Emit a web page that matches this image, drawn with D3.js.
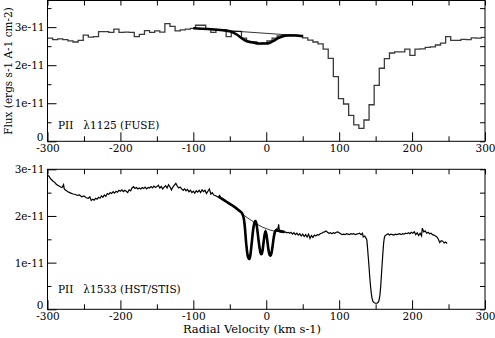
<!DOCTYPE html>
<html>
<head>
<meta charset="utf-8">
<script src="https://cdn.jsdelivr.net/npm/d3@7"></script>
<style>
body { margin: 0; background: #fff; }
svg text { font-family: "DejaVu Serif", serif; fill: #000; }
</style>
</head>
<body>
<div id="chart"></div>
<script>
// flux values are in units of 1e-11 ergs s-1 A-1 cm-2, velocities in km/s

// FUSE P II 1125: binned spectrum, [bin start velocity, flux]
const fuseSpectrum = [
  [-300, 2.71], [-293, 2.67], [-286, 2.69], [-279, 2.67], [-272, 2.64], [-265, 2.61],
  [-258, 2.65], [-251, 2.79], [-244, 2.74], [-237, 2.75], [-230, 2.88], [-223, 2.88],
  [-216, 2.86], [-209, 2.95], [-202, 2.86], [-195, 2.87], [-188, 2.86], [-181, 2.75],
  [-174, 2.81], [-167, 2.91], [-160, 2.86], [-153, 2.90], [-146, 2.87], [-139, 3.09],
  [-132, 3.02], [-125, 2.90], [-118, 2.93], [-111, 2.95], [-104, 2.97], [-97, 3.05],
  [-90, 3.05], [-83, 2.96], [-76, 2.86], [-69, 2.93], [-62, 2.93], [-55, 2.75],
  [-48, 2.89], [-41, 2.89], [-34, 2.71], [-27, 2.62], [-20, 2.61], [-13, 2.56],
  [-6, 2.58], [1, 2.64], [8, 2.71], [15, 2.77], [22, 2.79], [29, 2.79],
  [36, 2.79], [43, 2.78], [50, 2.72], [57, 2.66], [64, 2.61], [71, 2.56],
  [78, 2.42], [85, 2.18], [92, 1.70], [99, 1.12], [106, 0.98], [113, 0.68],
  [120, 0.43], [127, 0.34], [134, 0.56], [141, 0.96], [148, 1.47], [155, 1.92],
  [162, 2.17], [169, 2.32], [176, 2.35], [183, 2.35], [190, 2.42], [197, 2.26],
  [204, 2.42], [211, 2.43], [218, 2.47], [225, 2.48], [232, 2.53], [239, 2.58],
  [246, 2.75], [253, 2.65], [260, 2.65], [267, 2.68], [274, 2.67], [281, 2.72],
  [288, 2.71], [295, 2.73]
];
const fuseContinuum = [[-100, 2.97], [50, 2.77]];
const fuseModel = [
  [-100, 2.97], [-80, 2.95], [-60, 2.92], [-50, 2.89], [-40, 2.80], [-30, 2.66],
  [-20, 2.60], [-10, 2.57], [0, 2.57], [5, 2.59], [10, 2.64], [15, 2.70],
  [20, 2.74], [30, 2.78], [40, 2.78], [50, 2.76]
];

// HST/STIS P II 1533
const stisSpectrum = [
  [-300, 2.87], [-298, 2.85], [-296, 2.80], [-294, 2.77], [-292, 2.74], [-290, 2.72],
  [-288, 2.68], [-286, 2.66], [-284, 2.64], [-282, 2.62], [-280, 2.61], [-278, 2.67],
  [-277, 2.58], [-275, 2.55], [-273, 2.53], [-271, 2.51], [-268, 2.49], [-265, 2.47],
  [-262, 2.46], [-259, 2.44], [-256, 2.45], [-253, 2.41], [-250, 2.43], [-247, 2.39],
  [-244, 2.38], [-242, 2.41], [-240, 2.33], [-238, 2.36], [-236, 2.34], [-234, 2.38],
  [-232, 2.36], [-230, 2.40], [-228, 2.38], [-226, 2.43], [-224, 2.40], [-222, 2.45],
  [-220, 2.42], [-218, 2.48], [-216, 2.46], [-214, 2.50], [-212, 2.48], [-210, 2.52],
  [-208, 2.49], [-206, 2.53], [-204, 2.51], [-202, 2.55], [-200, 2.53], [-198, 2.56],
  [-196, 2.52], [-194, 2.55], [-192, 2.53], [-190, 2.50], [-188, 2.56], [-186, 2.54],
  [-184, 2.60], [-182, 2.63], [-180, 2.59], [-178, 2.61], [-176, 2.58], [-174, 2.60],
  [-172, 2.58], [-170, 2.61], [-168, 2.59], [-166, 2.62], [-164, 2.58], [-162, 2.61],
  [-160, 2.60], [-158, 2.63], [-156, 2.60], [-154, 2.64], [-152, 2.61], [-150, 2.63],
  [-148, 2.66], [-146, 2.60], [-144, 2.63], [-142, 2.58], [-140, 2.62], [-138, 2.65],
  [-136, 2.60], [-134, 2.67], [-132, 2.62], [-130, 2.56], [-128, 2.62], [-126, 2.66],
  [-124, 2.70], [-122, 2.64], [-120, 2.60], [-118, 2.62], [-116, 2.58], [-114, 2.55],
  [-112, 2.58], [-110, 2.54], [-108, 2.57], [-106, 2.52], [-104, 2.55], [-102, 2.50],
  [-100, 2.53], [-98, 2.49], [-96, 2.54], [-94, 2.51], [-92, 2.55], [-90, 2.50],
  [-88, 2.56], [-86, 2.52], [-84, 2.55], [-82, 2.48], [-80, 2.53], [-78, 2.58],
  [-76, 2.47], [-74, 2.50], [-72, 2.45], [-70, 2.44], [-68, 2.42], [-66, 2.40],
  [-64, 2.44], [-62, 2.37], [-60, 2.35], [-58, 2.33], [-56, 2.31], [-54, 2.30],
  [-52, 2.27], [-50, 2.26], [-48, 2.23], [-46, 2.22], [-44, 2.19], [-42, 2.18],
  [-40, 2.15], [-38, 2.13], [-36, 2.10], [-34, 2.07], [-32, 2.02], [-31, 1.95],
  [-30, 1.85], [-29, 1.70], [-28, 1.50], [-27, 1.35], [-26, 1.22], [-25, 1.13],
  [-24, 1.08], [-23, 1.07], [-22, 1.12], [-21, 1.25], [-20, 1.40], [-19, 1.55],
  [-18, 1.70], [-17, 1.80], [-16, 1.86], [-15, 1.90], [-14, 1.88], [-13, 1.80],
  [-12, 1.68], [-11, 1.55], [-10, 1.42], [-9, 1.30], [-8, 1.22], [-7, 1.18],
  [-6, 1.19], [-5, 1.26], [-4, 1.38], [-3, 1.52], [-2, 1.63], [-1, 1.68],
  [0, 1.62], [1, 1.52], [2, 1.40], [3, 1.28], [4, 1.20], [5, 1.16],
  [6, 1.15], [7, 1.19], [8, 1.27], [9, 1.38], [10, 1.50], [11, 1.60],
  [12, 1.67], [13, 1.70], [14, 1.72], [15, 1.70], [16, 1.73], [17, 1.82],
  [18, 1.68], [20, 1.66], [22, 1.67], [24, 1.65], [26, 1.66], [28, 1.64],
  [30, 1.65], [32, 1.63], [34, 1.65], [36, 1.61], [38, 1.64], [40, 1.60],
  [42, 1.63], [44, 1.59], [46, 1.62], [48, 1.57], [50, 1.61], [52, 1.56],
  [54, 1.60], [56, 1.55], [58, 1.61], [60, 1.52], [62, 1.58], [64, 1.54],
  [66, 1.59], [68, 1.57], [70, 1.60], [72, 1.59], [74, 1.62], [76, 1.63],
  [78, 1.65], [80, 1.66], [82, 1.68], [84, 1.65], [86, 1.63], [88, 1.64],
  [90, 1.62], [92, 1.64], [94, 1.63], [96, 1.65], [98, 1.66], [100, 1.64],
  [102, 1.62], [104, 1.60], [106, 1.61], [108, 1.60], [110, 1.62], [112, 1.61],
  [114, 1.60], [116, 1.62], [118, 1.61], [120, 1.62], [122, 1.60], [124, 1.61],
  [126, 1.62], [128, 1.63], [130, 1.60], [132, 1.63], [133, 1.55], [135, 1.57],
  [137, 1.52], [138, 1.48], [139, 1.30], [140, 1.10], [141, 0.90], [142, 0.68],
  [143, 0.50], [144, 0.35], [145, 0.24], [146, 0.18], [148, 0.14], [150, 0.13],
  [152, 0.13], [154, 0.16], [155, 0.22], [156, 0.32], [157, 0.50], [158, 0.75],
  [159, 0.98], [160, 1.22], [161, 1.42], [162, 1.54], [163, 1.58], [165, 1.60],
  [167, 1.62], [169, 1.59], [171, 1.61], [173, 1.60], [175, 1.59], [177, 1.61],
  [179, 1.60], [181, 1.61], [183, 1.62], [185, 1.60], [187, 1.62], [189, 1.61],
  [191, 1.63], [193, 1.62], [195, 1.64], [197, 1.62], [199, 1.65], [201, 1.63],
  [203, 1.66], [205, 1.60], [207, 1.64], [209, 1.58], [211, 1.63], [213, 1.57],
  [214, 1.74], [216, 1.66], [218, 1.68], [220, 1.63], [222, 1.65], [224, 1.62],
  [226, 1.63], [228, 1.60], [230, 1.59], [232, 1.57], [234, 1.55], [236, 1.50],
  [238, 1.43], [240, 1.47], [242, 1.46], [244, 1.42], [246, 1.44], [248, 1.41]
];
const stisContinuum = [
  [-65, 2.41], [-55, 2.31], [-45, 2.21], [-36, 2.09], [-30, 2.01], [-25, 1.95],
  [-20, 1.90], [-15, 1.85], [-10, 1.80], [-5, 1.76], [0, 1.73], [5, 1.70],
  [10, 1.68], [15, 1.67], [20, 1.66], [25, 1.66]
];
const stisModel = [
  [-65, 2.41], [-60, 2.36], [-55, 2.31], [-50, 2.26], [-45, 2.21], [-40, 2.15],
  [-36, 2.10], [-33, 2.05], [-31, 1.96], [-30, 1.86], [-29, 1.70], [-28, 1.50],
  [-27, 1.33], [-26, 1.20], [-25, 1.12], [-24, 1.08], [-23, 1.08], [-22, 1.14],
  [-21, 1.26], [-20, 1.41], [-19, 1.56], [-18, 1.70], [-17, 1.80], [-16, 1.86],
  [-15, 1.89], [-14, 1.87], [-13, 1.79], [-12, 1.67], [-11, 1.54], [-10, 1.41],
  [-9, 1.30], [-8, 1.22], [-7, 1.18], [-6, 1.19], [-5, 1.27], [-4, 1.39],
  [-3, 1.52], [-2, 1.62], [-1, 1.67], [0, 1.62], [1, 1.52], [2, 1.40],
  [3, 1.28], [4, 1.20], [5, 1.16], [6, 1.15], [7, 1.19], [8, 1.28],
  [9, 1.39], [10, 1.51], [11, 1.60], [12, 1.66], [14, 1.70], [16, 1.69],
  [20, 1.67], [25, 1.66]
];

const xMajor = [-300, -200, -100, 0, 100, 200, 300];
const xMinor = [-250, -150, -50, 50, 150, 250];
const panelLabels = ["PII   \u03bb1125 (FUSE)", "PII   \u03bb1533 (HST/STIS)"];

const width = 495, height = 338;
const left = 47.5, right = 485;

const svg = d3.select("#chart").append("svg")
    .attr("width", width)
    .attr("height", height);

let x = d3.scaleLinear().domain([-300, 300]).range([left, right]);

let panels = [
    { top: 0.5, bottom: 141.3, max: 3.7, spectrum: fuseSpectrum, step: true,
      continuum: fuseContinuum, model: fuseModel, label: panelLabels[0], labelY: 129 },
    { top: 169.3, bottom: 309.3, max: 3, spectrum: stisSpectrum, step: false,
      continuum: stisContinuum, model: stisModel, label: panelLabels[1], labelY: 293 }
];

let fmt = d => d === 0 ? "0" : d + "e-11";

panels.forEach(function (p, i) {
    let y = d3.scaleLinear().domain([0, p.max]).range([p.bottom, p.top]);
    let g = svg.append("g");

    let yMajor = [0, 1, 2, 3];
    let yHalf = [0.5, 1.5, 2.5, 3.5].filter(v => v <= p.max);
    let yAll = [0, 0.5, 1, 1.5, 2, 2.5, 3, 3.5].filter(v => v <= p.max);

    let clipId = "clip" + i;
    g.append("clipPath").attr("id", clipId)
        .append("rect")
        .attr("x", left).attr("y", p.top)
        .attr("width", right - left).attr("height", p.bottom - p.top);

    // bottom axis, labelled
    g.append("g")
        .attr("transform", `translate(0,${p.bottom})`)
        .call(d3.axisBottom(x).tickValues(xMajor).tickSize(-9).tickSizeOuter(0).tickPadding(3)
            .tickFormat(d => String(d)));
    g.append("g")
        .attr("transform", `translate(0,${p.bottom})`)
        .call(d3.axisBottom(x).tickValues(xMinor).tickSize(-5).tickSizeOuter(0).tickFormat(""));
    // top axis
    g.append("g")
        .attr("transform", `translate(0,${p.top})`)
        .call(d3.axisTop(x).tickValues(xMajor.concat(xMinor)).tickSize(-5).tickSizeOuter(0).tickFormat(""));
    // left axis
    let yAxis = g.append("g")
        .attr("transform", `translate(${left},0)`)
        .call(d3.axisLeft(y).tickValues(yMajor.filter(v => v <= p.max)).tickSize(-9).tickSizeOuter(0).tickPadding(3).tickFormat(fmt));
    // the zero label sits a little above the corner, as in the original
    yAxis.selectAll(".tick text").filter(d => d === 0).attr("dy", "-0.05em").attr("x", -4);
    g.append("g")
        .attr("transform", `translate(${left},0)`)
        .call(d3.axisLeft(y).tickValues(yHalf).tickSize(-4).tickSizeOuter(0).tickFormat(""));
    // right axis
    g.append("g")
        .attr("transform", `translate(${right},0)`)
        .call(d3.axisRight(y).tickValues(yAll).tickSize(-5).tickSizeOuter(0).tickFormat(""));

    g.selectAll(".domain").remove();
    g.selectAll(".tick line").attr("stroke", "#000");
    g.selectAll(".tick text")
        .style("font-family", '"DejaVu Serif", serif')
        .style("font-size", "10.5px");

    // frame
    g.append("rect")
        .attr("x", left).attr("y", p.top)
        .attr("width", right - left).attr("height", p.bottom - p.top)
        .attr("fill", "none")
        .attr("stroke", "#000")
        .attr("stroke-width", 1);

    let plot = g.append("g").attr("clip-path", `url(#${clipId})`);

    let line = d3.line()
        .x(d => x(d[0]))
        .y(d => y(d[1]));

    if (p.step) {
        let pts = p.spectrum.concat([[x.domain()[1], p.spectrum[p.spectrum.length - 1][1]]]);
        plot.append("path")
            .datum(pts)
            .attr("fill", "none")
            .attr("stroke", "#3a3a3a")
            .attr("stroke-width", 1.3)
            .attr("d", line.curve(d3.curveStepAfter));
    } else {
        plot.append("path")
            .datum(p.spectrum)
            .attr("fill", "none")
            .attr("stroke", "#000")
            .attr("stroke-width", 1.2)
            .attr("d", d3.line().x(d => x(d[0])).y(d => y(d[1])));
    }

    // continuum
    plot.append("path")
        .datum(p.continuum)
        .attr("fill", "none")
        .attr("stroke", "#000")
        .attr("stroke-width", 0.8)
        .attr("d", d3.line().x(d => x(d[0])).y(d => y(d[1])).curve(d3.curveMonotoneX));

    // model fit
    plot.append("path")
        .datum(p.model)
        .attr("fill", "none")
        .attr("stroke", "#000")
        .attr("stroke-width", 2.6)
        .attr("stroke-linejoin", "round")
        .attr("d", d3.line().x(d => x(d[0])).y(d => y(d[1])).curve(d3.curveMonotoneX));

    g.append("text")
        .attr("x", 58)
        .attr("y", p.labelY)
        .style("font-size", "10.5px")
        .attr("xml:space", "preserve")
        .text(p.label);
});

// axis titles
svg.append("text")
    .attr("transform", "translate(12,71) rotate(-90)")
    .attr("text-anchor", "middle")
    .style("font-size", "10.5px")
    .text("Flux (ergs s-1 A-1 cm-2)");

svg.append("text")
    .attr("x", 252)
    .attr("y", 333)
    .attr("text-anchor", "middle")
    .style("font-size", "11.5px")
    .text("Radial Velocity (km s-1)");
</script>
</body>
</html>
